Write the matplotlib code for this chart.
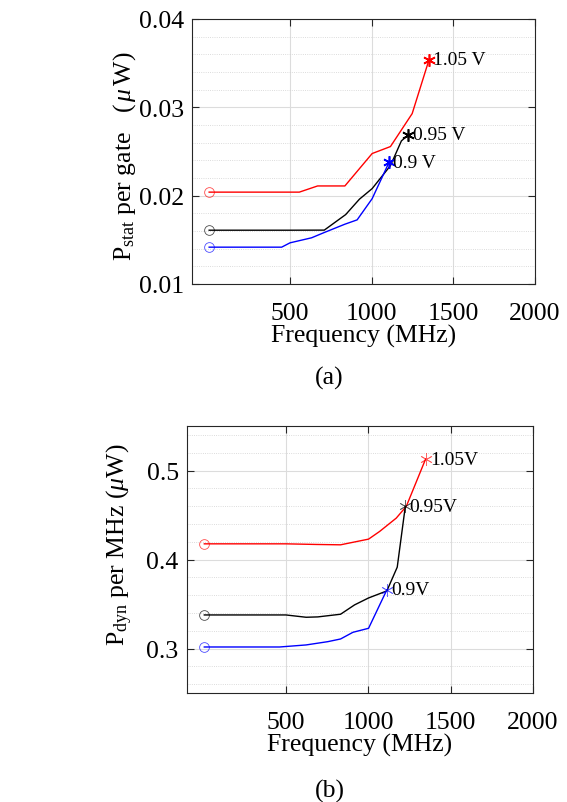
import matplotlib
matplotlib.use("Agg")
import matplotlib.pyplot as plt
from matplotlib.ticker import MultipleLocator, FixedLocator

plt.rcParams['font.family'] = ['Liberation Serif', 'DejaVu Serif']
plt.rcParams['mathtext.fontset'] = 'custom'
plt.rcParams['mathtext.rm'] = 'Liberation Serif'
plt.rcParams['mathtext.it'] = 'Liberation Serif:italic'

# ---- (a) static power per gate ----
stat_105_f = [5, 557, 669, 836, 1003, 1115, 1248, 1351]
stat_105_p = [0.0204, 0.0204, 0.0211, 0.0211, 0.02477, 0.02556, 0.02929, 0.03538]
stat_095_f = [5, 500, 710, 841, 925, 1003, 1115, 1182, 1225]
stat_095_p = [0.01609, 0.01609, 0.0161, 0.01786, 0.0196, 0.0208, 0.0234, 0.0262, 0.0269]
stat_090_f = [5, 449, 500, 632, 710, 836, 911, 1003, 1107]
stat_090_p = [0.01417, 0.01417, 0.01466, 0.01523, 0.01583, 0.01677, 0.01726, 0.01966, 0.0238]

# ---- (b) dynamic power per MHz ----
dyn_105_f = [5, 500, 684, 832, 1002, 1069, 1170, 1231, 1348]
dyn_105_p = [0.4176, 0.4176, 0.4169, 0.4165, 0.4229, 0.4315, 0.4465, 0.4597, 0.5128]
dyn_095_f = [5, 500, 623, 694, 832, 917, 1002, 1113, 1176, 1225]
dyn_095_p = [0.3377, 0.3377, 0.3351, 0.3355, 0.3385, 0.349, 0.3568, 0.3647, 0.3914, 0.4597]
dyn_090_f = [5, 462, 623, 755, 832, 907, 1002, 1113]
dyn_090_p = [0.3017, 0.3017, 0.304, 0.3077, 0.3107, 0.3182, 0.3227, 0.3659]

volt_labels_a = ['1.05 V', '0.95 V', '0.9 V']
volt_labels_b = ['1.05V', '0.95V', '0.9V']
colors = ['red', 'black', 'blue']

xticks = [500, 1000, 1500, 2000]
yticks_a = [0.01, 0.02, 0.03, 0.04]
yticks_b = [0.3, 0.4, 0.5]

fig = plt.figure(figsize=(5.67, 8.03), dpi=100)
W, H = 567, 803

def add_ax(l, t, r, b):
    return fig.add_axes([l / W, 1 - b / H, (r - l) / W, (b - t) / H])

axA = add_ax(192, 20, 535, 285)
axB = add_ax(187, 427, 533, 694)

FS = 18.5
AFS = 14

def style(ax, ymin, ymax, yt, yminor):
    ax.set_xlim(-100, 2000)
    ax.set_ylim(ymin, ymax)
    ax.xaxis.set_major_locator(FixedLocator(xticks))
    ax.yaxis.set_major_locator(FixedLocator(yt))
    ax.yaxis.set_minor_locator(MultipleLocator(yminor))
    ax.set_yticklabels([f'{v:g}' for v in yt])
    ax.grid(True, which='major', color='#dcdcdc', lw=0.8, ls='-')
    ax.grid(True, which='minor', axis='y', color='#d0d0d0', lw=0.6, ls=':')
    ax.set_axisbelow(True)
    ax.tick_params(which='both', direction='in', top=True, right=True,
                   labelsize=FS, color='#262626', pad=6)
    ax.tick_params(axis='x', pad=13)
    ax.tick_params(which='major', length=5)
    ax.tick_params(which='minor', length=0)
    for s in ax.spines.values():
        s.set_color('#262626')
        s.set_linewidth(0.8)
    ax.set_xlabel('Frequency (MHz)', fontsize=FS, labelpad=0)

def draw(ax, fs, ps, labels, mstar_lw, star_alpha):
    for f, p, c, lab in zip(fs, ps, colors, labels):
        ax.plot(f, p, color=c, lw=1.0, zorder=3)
        ax.plot(f[0], p[0], 'o', mfc='none', mec=c, mew=0.6, ms=7, alpha=0.7, zorder=4)
        ax.plot(f[-1], p[-1], color=c, ms=9, mew=mstar_lw, zorder=4,
                marker=(6, 2, 0), alpha=star_alpha, ls='none')
        ax.annotate(lab, (f[-1], p[-1]), xytext=(3, 0), textcoords='offset points',
                    fontsize=AFS, va='center', ha='left', zorder=5)

style(axA, 0.01, 0.04, yticks_a, 0.002)
draw(axA, [stat_105_f, stat_095_f, stat_090_f], [stat_105_p, stat_095_p, stat_090_p],
     volt_labels_a, 1.2, 1.0)
axA.set_ylabel(r'P$_{\mathrm{stat}}$ per gate   ($\,\mu\,$W)', fontsize=FS)
axA.yaxis.set_label_coords(-0.156, 0.485)

style(axB, 0.25, 0.55, yticks_b, 0.02)
draw(axB, [dyn_105_f, dyn_095_f, dyn_090_f], [dyn_105_p, dyn_095_p, dyn_090_p],
     volt_labels_b, 0.6, 0.6)
axB.set_ylabel(r'P$_{\mathrm{dyn}}$ per MHz ($\mu$W)', fontsize=FS)
axB.yaxis.set_label_coords(-0.15, 0.56)

fig.text(329 / W, 1 - 378 / H, '(a)', fontsize=FS, ha='center', va='center')
fig.text(330 / W, 1 - 791 / H, '(b)', fontsize=FS, ha='center', va='center')

fig.savefig('out.png', dpi=100)
